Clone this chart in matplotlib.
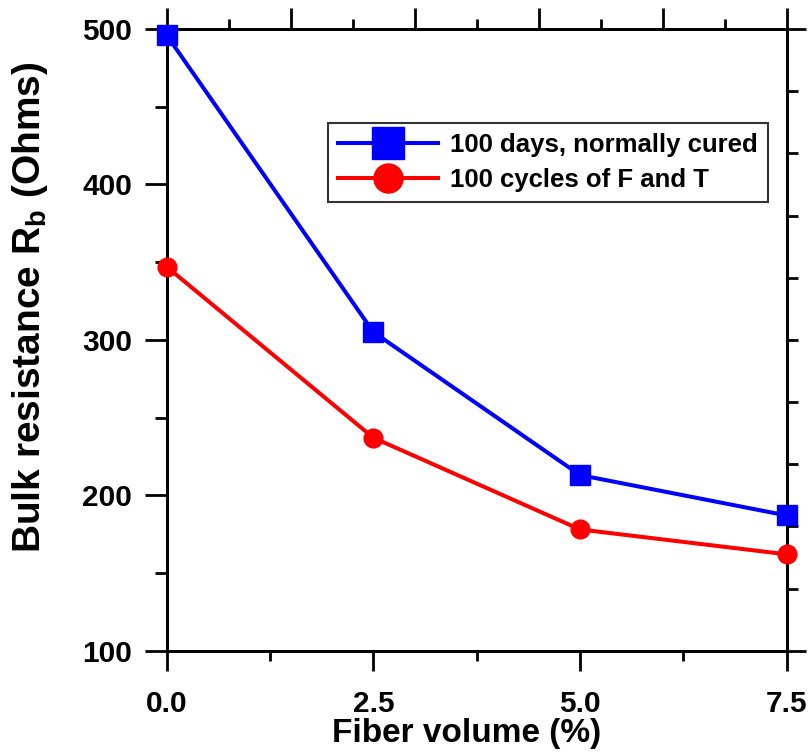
import matplotlib
matplotlib.use("Agg")
import matplotlib.pyplot as plt
from matplotlib.ticker import FixedLocator, NullFormatter

plt.rcParams['font.family'] = ['Liberation Sans', 'DejaVu Sans']
plt.rcParams['font.weight'] = 'bold'
plt.rcParams['mathtext.fontset'] = 'custom'
plt.rcParams['mathtext.rm'] = 'Liberation Sans:bold'
plt.rcParams['mathtext.bf'] = 'Liberation Sans:bold'

fiber = [0.0, 2.5, 5.0, 7.5]
cured = [496, 305, 213, 187]
freeze_thaw = [347, 237, 178, 162]
labels = ["100 days, normally cured", "100 cycles of F and T"]
xticks = [0.0, 2.5, 5.0, 7.5]
yticks = [100, 200, 300, 400, 500]

fig = plt.figure(figsize=(8.12, 7.55), dpi=100)
ax = fig.add_axes([166.7/812, 1 - 650.7/755, (786.7-166.7)/812, (650.7-29)/755])

ax.plot(fiber, cured, color='#0000ff', lw=2.9, marker='s', ms=14.5,
        label=labels[0], clip_on=False, zorder=5)
ax.plot(fiber, freeze_thaw, color='#ff0000', lw=2.9, marker='o', ms=13.5,
        label=labels[1], clip_on=False, zorder=5)

ax.set_xlim(0, 7.5)
ax.set_ylim(100, 500)
ax.set_xticks(xticks)
ax.set_xticklabels([f"{v:.1f}" for v in xticks])
ax.xaxis.set_minor_locator(FixedLocator([1.25, 3.75, 6.25]))
ax.set_yticks(yticks)
ax.yaxis.set_minor_locator(FixedLocator([150, 250, 350, 450]))

for s in ax.spines.values():
    s.set_linewidth(2)
ax.tick_params(axis='x', which='major', direction='out', length=14.5, width=2,
               labelsize=21.5, pad=13.5, top=False)
ax.tick_params(axis='x', which='minor', direction='out', length=7.5, width=2, top=False)
ax.tick_params(axis='y', which='major', direction='out', length=16, width=2,
               labelsize=21.5, pad=9, right=False)
ax.tick_params(axis='y', which='minor', direction='out', length=9, width=2, right=False)

ax.set_xlabel("Fiber volume (%)", fontsize=24, fontweight='bold')
ax.set_ylabel(r"Bulk resistance R$_{\mathrm{b}}$ (Ohms)", fontsize=28, fontweight='bold')
ax.xaxis.set_label_coords(0.483, -0.1085)
ax.yaxis.set_label_coords(-0.188, 0.552)

# top and right auxiliary scales
axt = ax.twiny()
axt.set_xlim(0, 10)
axt.xaxis.set_major_locator(FixedLocator([0, 2, 4, 6, 8, 10]))
axt.xaxis.set_minor_locator(FixedLocator([1, 3, 5, 7, 9]))
axt.xaxis.set_major_formatter(NullFormatter())
axt.tick_params(axis='x', which='major', direction='out', length=15, width=2)
axt.tick_params(axis='x', which='minor', direction='out', length=7.5, width=2)

axr = ax.twinx()
axr.set_ylim(0, 10)
axr.yaxis.set_major_locator(FixedLocator([0, 10]))
axr.yaxis.set_minor_locator(FixedLocator(list(range(1, 10))))
axr.yaxis.set_major_formatter(NullFormatter())
axr.tick_params(axis='y', which='major', direction='out', length=14, width=2)
axr.tick_params(axis='y', which='minor', direction='out', length=8, width=2)
for a in (axt, axr):
    for s in a.spines.values():
        s.set_linewidth(2)

ax.set_zorder(3)
ax.patch.set_visible(False)

leg = ax.legend(loc='upper left', bbox_to_anchor=((328-166.7)/620, 1 - (123-29)/621.7),
                fontsize=18.5, frameon=True, fancybox=False, edgecolor='black',
                markerscale=1.55, handlelength=3.9, borderpad=0.4, labelspacing=0.42,
                handletextpad=0.45, borderaxespad=0)
leg.get_frame().set_linewidth(1.5)
for t in leg.get_texts():
    t.set_fontweight('bold')

fig.savefig("out.png", dpi=100)
